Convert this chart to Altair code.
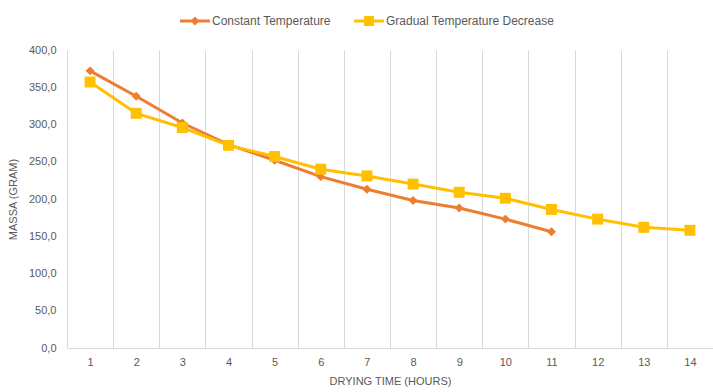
import altair as alt
import pandas as pd

hours = list(range(1, 15))
series_names = ["Constant Temperature", "Gradual Temperature Decrease"]
constant = [372, 338, 302, 273, 252, 230, 213, 198, 188, 173, 156]
gradual = [357, 315, 296, 272, 257, 240, 231, 220, 209, 201, 186, 173, 162, 158]
colors = ["#ED7D31", "#FFC000"]
y_ticks = [0, 50, 100, 150, 200, 250, 300, 350, 400]

rows = []
for h, v in zip(hours, constant):
    rows.append({"hour": h, "massa": v, "series": series_names[0]})
for h, v in zip(hours, gradual):
    rows.append({"hour": h, "massa": v, "series": series_names[1]})
df = pd.DataFrame(rows)

FONT = "Liberation Sans"
TXT = "#595959"

x_enc = alt.X(
    "hour:O",
    bandPosition=0.5,
    scale=alt.Scale(type="band", paddingInner=0, paddingOuter=0, domain=hours),
    axis=alt.Axis(
        title="DRYING TIME (HOURS)",
        tickBand="extent",
        grid=True,
        gridColor="#d9d9d9",
        gridWidth=1,
        ticks=False,
        domainColor="#d9d9d9",
        domainWidth=1,
        labelAngle=0,
        labelColor=TXT,
        labelFont=FONT,
        labelFontSize=11,
        labelPadding=8,
        titleColor=TXT,
        titleFont=FONT,
        titleFontSize=11,
        titleFontWeight="normal",
        titlePadding=8,
    ),
)
y_enc = alt.Y(
    "massa:Q",
    scale=alt.Scale(domain=[0, 400], nice=False),
    axis=alt.Axis(
        title="MASSA (GRAM)",
        values=y_ticks,
        labelExpr="replace(format(datum.value, '.1f'), '.', ',')",
        grid=False,
        ticks=False,
        domain=False,
        labelColor=TXT,
        labelFont=FONT,
        labelFontSize=11,
        labelPadding=11,
        titleColor=TXT,
        titleFont=FONT,
        titleFontSize=11,
        titleFontWeight="normal",
        titlePadding=10,
    ),
)

base = alt.Chart(df)
layers = []
shapes = ["diamond", "square"]
sizes = [80, 120]
for name, col, shp, sz in zip(series_names, colors, shapes, sizes):
    sub = base.transform_filter(alt.datum.series == name)
    layers.append(sub.mark_line(color=col, strokeWidth=3).encode(x=x_enc, y=y_enc))
    layers.append(
        sub.mark_point(shape=shp, filled=True, opacity=1, color=col, size=sz).encode(x=x_enc, y=y_enc)
    )

legend_paths = [
    "M-1,-0.1L1,-0.1L1,0.1L-1,0.1Z M0,-0.3L0.3,0L0,0.3L-0.3,0Z",
    "M-1,-0.1L1,-0.1L1,0.1L-1,0.1Z M-0.33,-0.33L0.33,-0.33L0.33,0.33L-0.33,0.33Z",
]
legend_layer = base.transform_filter("false").mark_point(filled=True, opacity=1).encode(
    x=x_enc,
    y=y_enc,
    color=alt.Color(
        "series:N",
        scale=alt.Scale(domain=series_names, range=colors),
        legend=alt.Legend(
            orient="none",
            legendX=113,
            legendY=-44,
            direction="horizontal",
            title=None,
            symbolOpacity=1,
            symbolSize=900,
            symbolStrokeWidth=0,
            labelFont=FONT,
            labelFontSize=12,
            labelColor=TXT,
            labelOffset=2,
            labelLimit=400,
            columnPadding=23,
            padding=0,
        ),
    ),
    shape=alt.Shape(
        "series:N",
        scale=alt.Scale(domain=series_names, range=legend_paths),
        legend=alt.Legend(
            orient="none",
            legendX=113,
            legendY=-44,
            direction="horizontal",
            title=None,
            labelLimit=400,
        ),
    ),
)

chart = (
    alt.layer(*layers, legend_layer)
    .properties(
        width=646,
        height=298,
        autosize=alt.AutoSizeParams(type="none"),
        padding={"left": 67, "top": 50, "right": 0, "bottom": 44},
        background="white",
    )
    .configure_view(stroke=None)
)

chart.save("out.html", embed_options={"renderer": "svg", "actions": False})
